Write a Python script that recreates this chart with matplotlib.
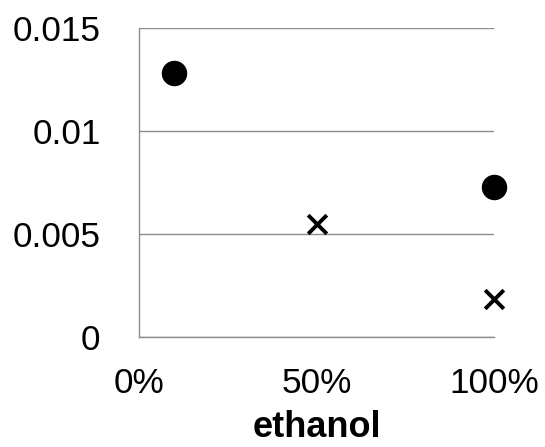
import matplotlib
matplotlib.use("Agg")
import matplotlib.pyplot as plt
import matplotlib.ticker as mticker

plt.rcParams['font.family'] = ['Liberation Sans', 'DejaVu Sans']

# fraction d'ethanol et valeurs mesurees
ethanol_ronds = [0.10, 1.00]
valeurs_ronds = [0.01281, 0.00727]
ethanol_croix = [0.50, 1.00]
valeurs_croix = [0.00548, 0.00183]

graduations_y = [0, 0.005, 0.01, 0.015]
etiquettes_y = ["0", "0.005", "0.01", "0.015"]
graduations_x = [0, 0.5, 1.0]

fig = plt.figure(figsize=(5.45, 4.47), dpi=100)
ax = fig.add_axes([0.2545, 0.2468, 0.6528, 0.690])

gris = '#8c8c8c'
ax.scatter(ethanol_ronds, valeurs_ronds, s=300, marker='o', color='black',
           zorder=3, clip_on=False)
ax.scatter(ethanol_croix, valeurs_croix, s=180, marker='x', color='black',
           linewidths=2.8, zorder=3, clip_on=False)

ax.set_xlim(0, 1)
ax.set_ylim(0, 0.015)
ax.set_yticks(graduations_y)
ax.set_yticklabels(etiquettes_y)
ax.set_xticks(graduations_x)
ax.xaxis.set_major_formatter(mticker.PercentFormatter(xmax=1, decimals=0))

ax.grid(axis='y', color=gris, linewidth=1.0)
ax.set_axisbelow(True)
for cote in ['top', 'right']:
    ax.spines[cote].set_visible(False)
for cote in ['left', 'bottom']:
    ax.spines[cote].set_color(gris)
    ax.spines[cote].set_linewidth(1.0)

ax.tick_params(axis='both', length=0, labelsize=25.3)
ax.tick_params(axis='y', pad=27.5)
ax.tick_params(axis='x', pad=22)

ax.set_xlabel("ethanol", fontsize=26, fontweight='bold', labelpad=7)

fig.savefig("out.png", dpi=100)
plt.close()
